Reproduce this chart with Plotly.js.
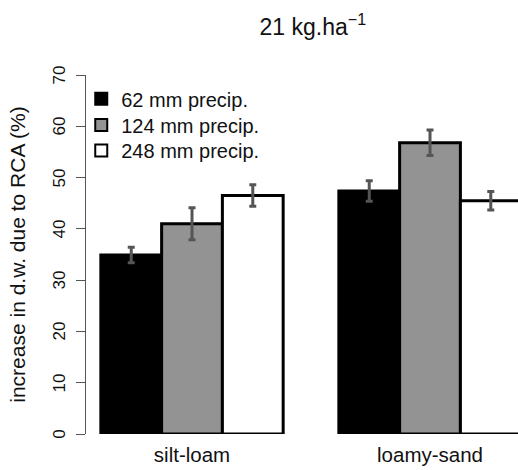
<!DOCTYPE html>
<html>
<head>
<meta charset="utf-8">
<script src="https://cdn.plot.ly/plotly-3.0.1.min.js"></script>
<style>
html,body{margin:0;padding:0;background:#fff;}
#wrap{position:relative;width:518px;height:470px;}
#chart{width:518px;height:470px;}
#yticks{position:absolute;left:0;top:0;width:518px;height:470px;pointer-events:none;}
.ytl{position:absolute;transform:translate(-50%,-50%) rotate(-90deg);font-family:"Liberation Sans",Arial,sans-serif;font-size:17px;color:#111111;white-space:nowrap;line-height:1;}
</style>
</head>
<body>
<div id="wrap"><div id="chart"></div><div id="yticks"></div></div>
<script>
// Data
const categories = ["silt-loam", "loamy-sand"];
const seriesNames = ["62 mm precip.", "124 mm precip.", "248 mm precip."];
const precip62 = [34.9, 47.4];
const precip124 = [41.0, 56.8];
const precip248 = [46.5, 45.5];
const err62 = [1.5, 2.0];
const err124 = [3.1, 2.5];
const err248 = [2.1, 1.8];
const yTicks = [0, 10, 20, 30, 40, 50, 60, 70];

const values = [precip62, precip124, precip248];
const errors = [err62, err124, err248];
const fills = ["#000000", "#939393", "#ffffff"];
const FONT = "Liberation Sans";
const TXT = "#111111";

// bars (no legend entries of their own)
const barTraces = seriesNames.map((name, i) => ({
  type: "bar",
  name: name,
  x: categories,
  y: values[i],
  showlegend: false,
  marker: { color: fills[i], line: { color: "#000000", width: 3 } },
  error_y: { type: "data", array: errors[i], visible: true, color: "#555555", thickness: 3, width: 3.5 },
  hoverinfo: "none"
}));

// legend keys: square markers, one legend box per series
const legendIds = ["legend", "legend2", "legend3"];
const keyTraces = seriesNames.map((name, i) => ({
  type: "scatter",
  mode: "markers",
  name: name,
  x: [null],
  y: [null],
  legend: legendIds[i],
  showlegend: true,
  marker: { symbol: "square", size: 12, color: fills[i], line: { color: "#000000", width: 2 } },
  hoverinfo: "none"
}));

const legendRowsY = [0.934, 0.861, 0.790];
const legendCommon = (yy) => ({
  x: -0.011, xanchor: "left", y: yy, yanchor: "middle",
  bgcolor: "rgba(0,0,0,0)", borderwidth: 0,
  font: { size: 20, family: FONT, color: TXT }
});

const layout = {
  width: 518,
  height: 470,
  margin: { l: 86, r: 0, t: 75, b: 36, pad: 0 },
  paper_bgcolor: "#ffffff",
  plot_bgcolor: "#ffffff",
  font: { family: FONT, color: TXT },
  barmode: "group",
  bargap: 0.234,
  bargroupgap: 0,
  showlegend: true,
  title: {
    text: "21 kg.ha<sup>\u22121</sup>",
    font: { size: 23, family: FONT, color: TXT },
    x: 0.525, xref: "paper", xanchor: "center",
    y: 0.943, yref: "container", yanchor: "middle"
  },
  xaxis: {
    type: "category",
    range: [-0.4454, 1.3697],
    showline: false, showgrid: false, zeroline: false,
    ticks: "", tickfont: { size: 20.5, family: FONT, color: TXT },
    ticklabelstandoff: 6
  },
  yaxis: {
    range: [0, 70],
    tickmode: "array",
    tickvals: yTicks,
    showticklabels: false,
    ticks: "outside", ticklen: 9, tickwidth: 1, tickcolor: "#555555",
    showline: true, linecolor: "#555555", linewidth: 1,
    showgrid: false, zeroline: false,
    title: { text: "increase in d.w. due to RCA (%)", font: { size: 21, family: FONT, color: TXT }, standoff: 44 }
  },
  legend: legendCommon(legendRowsY[0]),
  legend2: legendCommon(legendRowsY[1]),
  legend3: legendCommon(legendRowsY[2])
};

const gd = document.getElementById("chart");
const tickBox = document.getElementById("yticks");

// y tick labels, rotated to run along the axis; positioned through Plotly's own y scale
function placeTickLabels() {
  try {
    const fl = gd._fullLayout;
    if (!fl || !fl.yaxis || !fl.yaxis.l2p) return;
    const ya = fl.yaxis;
    const xPix = ya._offset !== undefined ? fl.margin.l - 27 : 59;
    if (!tickBox.childElementCount) {
      yTicks.forEach(function (v) {
        const d = document.createElement("div");
        d.className = "ytl";
        d.textContent = String(v);
        d.dataset.v = v;
        tickBox.appendChild(d);
      });
    }
    Array.prototype.forEach.call(tickBox.children, function (d) {
      const v = +d.dataset.v;
      d.style.left = xPix + "px";
      d.style.top = (ya._offset + ya.l2p(v)) + "px";
    });
  } catch (e) { /* ignore */ }
}

let p;
try {
  p = Plotly.newPlot(gd, barTraces.concat(keyTraces), layout, { displayModeBar: false });
} catch (e) { /* ignore */ }
placeTickLabels();
if (p && p.then) p.then(placeTickLabels, placeTickLabels);
[0, 50, 200, 600].forEach(function (t) { setTimeout(placeTickLabels, t); });
</script>
</body>
</html>
